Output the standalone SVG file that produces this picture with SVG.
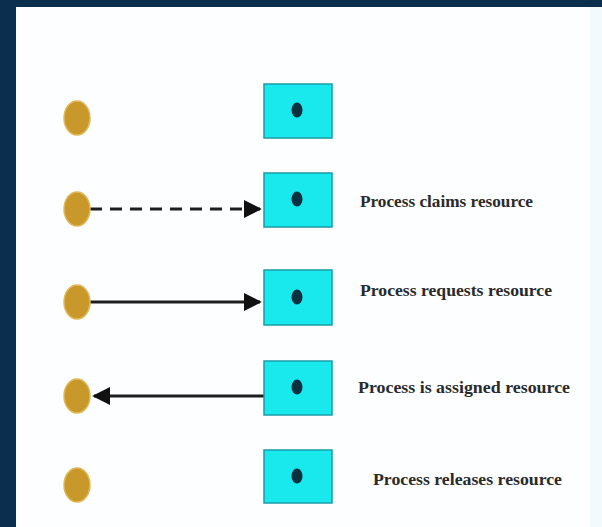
<svg xmlns="http://www.w3.org/2000/svg" width="602" height="527" viewBox="0 0 602 527">
<defs>
<style>
.proc{fill:#c9982a;stroke:#e0b85a;stroke-width:1.5}
.res{fill:#19e8ec;stroke:#1a9ca8;stroke-width:1.5}
.dot{fill:#0b3040}
.lbl{font-family:"Liberation Serif",serif;font-weight:bold;font-size:16px;fill:#2a2a2a}
.edge{stroke:#1e1e1e;stroke-width:3;fill:none}
</style>
<marker id="ah" viewBox="0 0 10 10" refX="9" refY="5" markerWidth="6" markerHeight="6" markerUnits="strokeWidth" orient="auto">
<path d="M0,0 L10,5 L0,10 z" fill="#111"/>
</marker>
</defs>
<rect x="0" y="0" width="602" height="527" fill="#0c2e4e"/>
<rect x="16" y="7" width="586" height="520" fill="#fdfeff"/>
<rect x="590" y="7" width="12" height="520" fill="#f3fafd"/>

<g id="connectors">
<line class="edge" x1="90" y1="209" x2="260" y2="209" stroke-dasharray="12,8" marker-end="url(#ah)"/>
<line class="edge" x1="90" y1="302" x2="260" y2="302" marker-end="url(#ah)"/>
<line class="edge" x1="264" y1="396" x2="94" y2="396" marker-end="url(#ah)"/>
</g>

<g id="p1"><ellipse class="proc" cx="77" cy="118" rx="13" ry="17"/></g>
<g id="p2"><ellipse class="proc" cx="77" cy="209" rx="13" ry="17"/></g>
<g id="p3"><ellipse class="proc" cx="77" cy="302" rx="13" ry="17"/></g>
<g id="p4"><ellipse class="proc" cx="77" cy="396" rx="13" ry="17"/></g>
<g id="p5"><ellipse class="proc" cx="77" cy="485" rx="13" ry="17"/></g>

<g id="r1"><rect class="res" x="264" y="84" width="68" height="54"/><ellipse class="dot" cx="297" cy="110" rx="5.5" ry="7.5"/></g>
<g id="r2"><rect class="res" x="264" y="173" width="68" height="54"/><ellipse class="dot" cx="297" cy="199" rx="5.5" ry="7.5"/></g>
<g id="r3"><rect class="res" x="264" y="270" width="68" height="55"/><ellipse class="dot" cx="297" cy="297" rx="5.5" ry="7.5"/></g>
<g id="r4"><rect class="res" x="264" y="361" width="68" height="54"/><ellipse class="dot" cx="297" cy="387" rx="5.5" ry="7.5"/></g>
<g id="r5"><rect class="res" x="264" y="450" width="68" height="53"/><ellipse class="dot" cx="297" cy="476" rx="5.5" ry="7.5"/></g>

<g id="labels">
<text class="lbl" x="360" y="207" textLength="173" lengthAdjust="spacingAndGlyphs">Process claims resource</text>
<text class="lbl" x="360" y="296" textLength="192" lengthAdjust="spacingAndGlyphs">Process requests resource</text>
<text class="lbl" x="358" y="393" textLength="212" lengthAdjust="spacingAndGlyphs">Process is assigned resource</text>
<text class="lbl" x="373" y="485" textLength="189" lengthAdjust="spacingAndGlyphs">Process releases resource</text>
</g>
</svg>
